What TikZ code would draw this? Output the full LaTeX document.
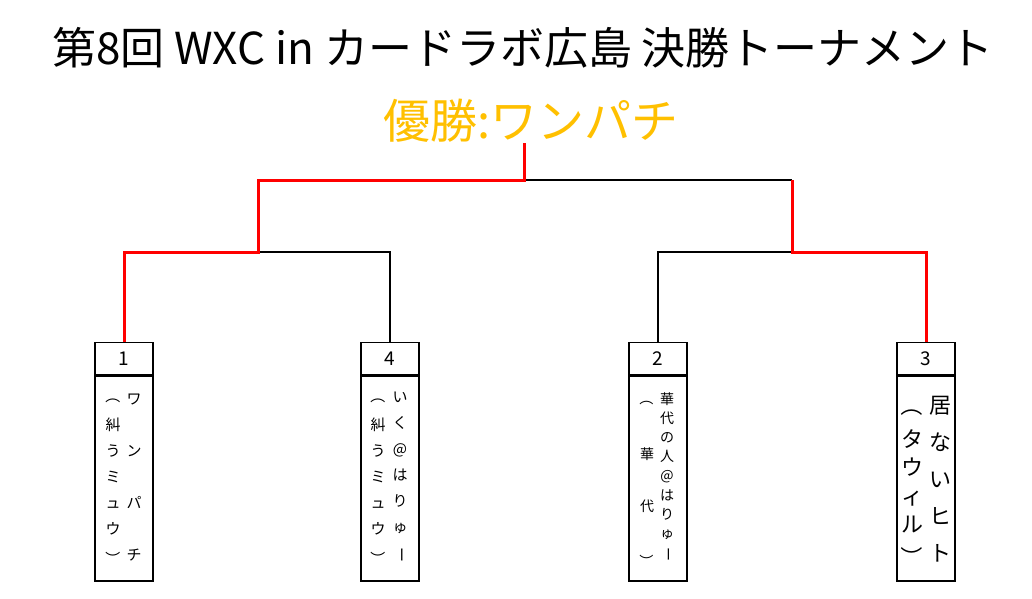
\documentclass[tikz,border=0pt]{standalone}
\usepackage{fontspec}
\usepackage{graphicx}
\setmainfont{Noto Sans CJK JP}
\definecolor{gold}{RGB}{255,192,0}
\newcommand{\vop}{\raisebox{0.25em}[0.85em][0.12em]{\rotatebox[origin=c]{-90}{（}}}
\newcommand{\vcl}{\raisebox{-0.25em}[0.85em][0.12em]{\rotatebox[origin=c]{-90}{）}}}
\newcommand{\vbar}{\rotatebox[origin=c]{-90}{ー}}
\begin{document}
\begin{tikzpicture}[x=1pt,y=-1pt,
  rl/.style={draw=red, line width=3pt},
  bl/.style={draw=black, line width=1.3pt},
  hdr/.style={draw, line width=1.3pt, minimum width=58pt, minimum height=32pt, inner sep=0pt, anchor=north, font=\fontsize{19}{19}\selectfont},
  bod/.style={draw, line width=1.3pt, minimum width=58pt, minimum height=205pt, inner sep=0pt, anchor=north},
  col/.style={inner sep=0pt, align=center, anchor=center}]
\useasboundingbox (0,0) rectangle (1032,598);
\fill[white] (0,0) rectangle (1032,598);

\node[inner sep=0pt, font=\fontsize{44}{44}\selectfont] (title) at (523,48) {第8回 WXC in カードラボ広島 決勝トーナメント};
\node[inner sep=0pt, text=gold, font=\fontsize{47}{47}\selectfont] (win) at (531,121) {優勝:ワンパチ};

% boxes
\node[hdr] (b1h) at (124,342) {1};
\node[bod] (b1b) at (b1h.south) {};
\node[hdr] (b4h) at (390,342) {4};
\node[bod] (b4b) at (b4h.south) {};
\node[hdr] (b2h) at (658,342) {2};
\node[bod] (b2b) at (b2h.south) {};
\node[hdr] (b3h) at (926,342) {3};
\node[bod] (b3b) at (b3h.south) {};

% vertical names
\node[col, font=\fontsize{15}{26}\selectfont] (b1l) at (113,477.5) {\vop\\糾\\う\\ミ\\ュ\\ウ\\\vcl};
\node[col, font=\fontsize{15}{51.7}\selectfont] (b1r) at (134,477.5) {ワ\\ン\\パ\\チ};

\node[col, font=\fontsize{15}{26}\selectfont] (b4l) at (378,477.5) {\vop\\糾\\う\\ミ\\ュ\\ウ\\\vcl};
\node[col, font=\fontsize{15}{26}\selectfont] (b4r) at (400,477.5) {い\\く\\@\\は\\り\\ゅ\\\vbar};

\node[col, font=\fontsize{14}{52}\selectfont] (b2l) at (647,480) {\vop\\華\\代\\\vcl};
\node[col, font=\fontsize{14}{19.1}\selectfont] (b2r) at (667,477) {華\\代\\の\\人\\@\\は\\り\\ゅ\\\vbar};

\node[col, font=\fontsize{22}{28.2}\selectfont] (b3l) at (912,482) {\vop\\タ\\ウ\\ィ\\ル\\\vcl};
\node[col, font=\fontsize{22}{37}\selectfont] (b3r) at (940,479) {居\\な\\い\\ヒ\\ト};

% bracket
\coordinate (j0) at (524,180);
\coordinate (jl) at (258,252);
\coordinate (jr) at (792,252);
\draw[bl] (b4h.north) |- (jl);
\draw[bl] (b2h.north) |- (jr);
\draw[bl] (j0) -- (j0 -| jr);
\draw[rl] (b1h.north) |- (jl) |- (j0) -- (win.south -| j0);
\draw[rl] (b3h.north) |- (jr) -- (jr |- j0);
\end{tikzpicture}
\end{document}
